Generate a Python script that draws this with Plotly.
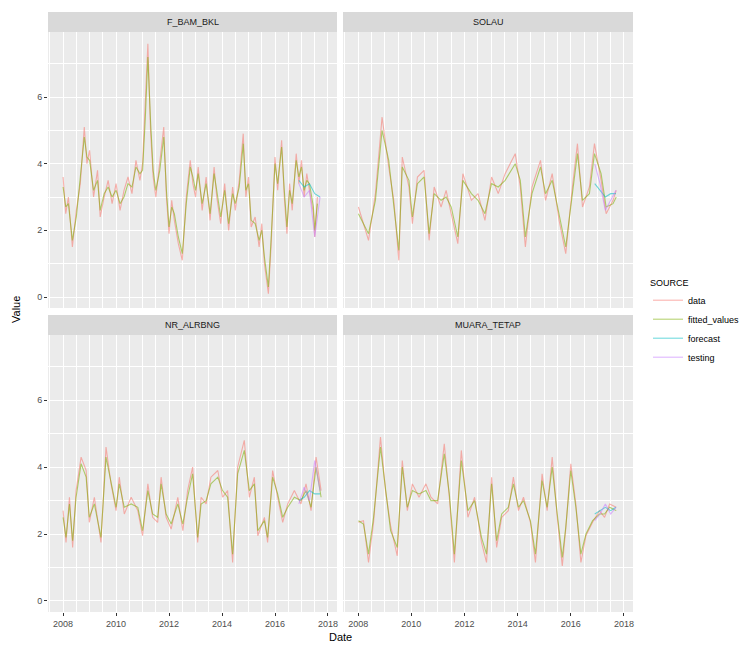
import plotly.graph_objects as go
from plotly.subplots import make_subplots

# ---------------- data ----------------
facet_names = ["F_BAM_BKL", "SOLAU", "NR_ALRBNG", "MUARA_TETAP"]
source_names = ["data", "fitted_values", "forecast", "testing"]
source_colors = ["#F8766D", "#7CAE00", "#00BFC4", "#C77CFF"]

# facet 1
x1 = [2008.00, 2008.10, 2008.20, 2008.35, 2008.50, 2008.65, 2008.80, 2008.90,
      2009.00, 2009.15, 2009.30, 2009.40, 2009.55, 2009.70, 2009.85,
      2010.00, 2010.15, 2010.30, 2010.45, 2010.60, 2010.75, 2010.90,
      2011.00, 2011.10, 2011.20, 2011.30, 2011.40, 2011.50, 2011.65, 2011.80, 2011.90,
      2012.00, 2012.10, 2012.20, 2012.35, 2012.50, 2012.65, 2012.80, 2012.90,
      2013.00, 2013.10, 2013.25, 2013.40, 2013.55, 2013.70, 2013.80, 2013.95,
      2014.10, 2014.25, 2014.40, 2014.50, 2014.65, 2014.80, 2014.90,
      2015.00, 2015.10, 2015.25, 2015.40, 2015.50, 2015.60, 2015.75, 2015.85,
      2016.00, 2016.10, 2016.25, 2016.35, 2016.45, 2016.55, 2016.65, 2016.80, 2016.90,
      2017.00, 2017.10, 2017.20, 2017.30, 2017.45, 2017.50, 2017.60]
data1 = [3.6, 2.5, 3.0, 1.5, 2.6, 3.4, 5.1, 4.0,
         4.4, 3.0, 3.8, 2.4, 3.0, 3.5, 2.8,
         3.4, 2.6, 3.2, 3.6, 3.1, 4.1, 3.5,
         4.0, 5.6, 7.6, 5.0, 3.6, 3.0, 4.0, 5.1, 3.0,
         1.9, 2.9, 2.3, 1.6, 1.1, 3.0, 4.1, 3.4,
         3.0, 3.9, 2.6, 3.6, 2.3, 3.9, 3.0, 2.2,
         3.4, 2.0, 3.3, 2.6, 3.5, 4.9, 3.0,
         3.6, 2.1, 2.4, 1.5, 2.2, 1.0, 0.1, 1.5,
         4.2, 3.2, 4.7, 3.0, 1.9, 3.4, 2.6, 4.3, 3.4,
         4.1, 3.0, 3.7, 3.2, 2.5, 1.8, 3.0]
fitted1 = [3.3, 2.7, 2.8, 1.7, 2.4, 3.6, 4.8, 4.2,
           4.1, 3.2, 3.5, 2.6, 3.1, 3.3, 3.0,
           3.2, 2.8, 3.0, 3.4, 3.3, 3.9, 3.7,
           3.8, 5.3, 7.2, 5.3, 3.8, 3.2, 3.8, 4.8, 3.2,
           2.1, 2.7, 2.5, 1.8, 1.3, 2.8, 3.9, 3.6,
           3.2, 3.7, 2.8, 3.4, 2.5, 3.7, 3.2, 2.4,
           3.2, 2.2, 3.1, 2.8, 3.3, 4.6, 3.2,
           3.4, 2.3, 2.2, 1.7, 2.0, 1.2, 0.3, 1.7,
           4.0, 3.4, 4.5, 3.2, 2.1, 3.2, 2.8, 4.1, 3.6,
           3.9, 3.2, 3.5, 3.4, 2.7, 2.0, 2.8]

# facet 2
x2 = [2008.01, 2008.39, 2008.65, 2008.90,
      2009.15, 2009.34, 2009.53, 2009.66, 2009.91,
      2010.04, 2010.23, 2010.48, 2010.67, 2010.86,
      2011.12, 2011.31, 2011.50, 2011.75, 2011.94,
      2012.26, 2012.51, 2012.77,
      2013.02, 2013.27, 2013.53, 2013.91,
      2014.10, 2014.29, 2014.54, 2014.86,
      2015.05, 2015.30, 2015.56, 2015.81,
      2016.06, 2016.25, 2016.44, 2016.70, 2016.89,
      2017.14, 2017.33, 2017.59, 2017.71]
data2 = [2.7, 1.7, 3.1, 5.4,
         3.9, 2.9, 1.1, 4.2, 3.3,
         2.2, 3.6, 3.8, 1.7, 3.3,
         2.7, 3.2, 2.5, 1.6, 3.7,
         2.9, 3.1, 2.3,
         3.6, 3.1, 3.7, 4.3,
         3.3, 1.5, 3.3, 4.1,
         2.9, 3.7, 2.3, 1.3,
         3.3, 4.6, 2.7, 3.3, 4.6,
         3.5, 2.5, 2.9, 3.2]
fitted2 = [2.5, 1.9, 2.9, 5.0,
           4.1, 2.7, 1.4, 3.9, 3.5,
           2.4, 3.4, 3.6, 1.9, 3.1,
           2.9, 3.0, 2.7, 1.8, 3.5,
           3.1, 2.9, 2.5,
           3.4, 3.3, 3.5, 4.0,
           3.5, 1.8, 3.1, 3.9,
           3.1, 3.5, 2.5, 1.5,
           3.1, 4.3, 2.9, 3.1, 4.3,
           3.7, 2.7, 2.8, 3.0]

# facet 3
x3 = [2008.00, 2008.11, 2008.24, 2008.36, 2008.49, 2008.68, 2008.87, 2008.99,
      2009.18, 2009.43, 2009.62, 2009.81,
      2010.00, 2010.12, 2010.31, 2010.57, 2010.82,
      2011.00, 2011.20, 2011.38, 2011.57, 2011.70, 2011.89,
      2012.08, 2012.33, 2012.52, 2012.70, 2012.89,
      2013.08, 2013.21, 2013.40, 2013.58, 2013.84,
      2014.02, 2014.21, 2014.40, 2014.59, 2014.84,
      2015.03, 2015.22, 2015.35, 2015.60, 2015.72, 2015.91,
      2016.10, 2016.29, 2016.48, 2016.73, 2016.98,
      2017.17, 2017.36, 2017.55, 2017.74]
data3 = [2.7, 1.75, 3.1, 1.6, 3.3, 4.3, 3.9, 2.35,
         3.1, 1.75, 4.6, 3.5,
         2.7, 3.7, 2.6, 3.1, 2.7,
         1.95, 3.5, 2.5, 2.35, 3.7, 2.5,
         2.15, 3.1, 2.1, 3.3, 4.0,
         1.75, 3.1, 2.9, 3.7, 3.9,
         3.1, 3.3, 1.15, 4.0, 4.8,
         3.1, 3.7, 1.95, 2.5, 1.75, 3.9,
         3.1, 2.35, 2.9, 3.3, 2.9,
         3.5, 2.7, 4.3, 3.3]
fitted3 = [2.5, 1.9, 2.9, 1.8, 3.1, 4.1, 3.7, 2.5,
           2.9, 1.9, 4.3, 3.6,
           2.8, 3.5, 2.8, 2.9, 2.8,
           2.1, 3.3, 2.6, 2.5, 3.5, 2.6,
           2.3, 2.9, 2.3, 3.1, 3.8,
           1.9, 2.9, 3.0, 3.5, 3.7,
           3.3, 3.1, 1.4, 3.8, 4.5,
           3.3, 3.5, 2.1, 2.4, 1.9, 3.7,
           3.2, 2.5, 2.8, 3.1, 3.0,
           3.3, 2.8, 4.0, 3.1]

# facet 4
x4 = [2008.01, 2008.20, 2008.39, 2008.58, 2008.84,
      2009.03, 2009.22, 2009.47, 2009.66, 2009.85,
      2010.04, 2010.29, 2010.55, 2010.74, 2010.99,
      2011.24, 2011.43, 2011.62, 2011.88,
      2012.13, 2012.38, 2012.64, 2012.83,
      2013.02, 2013.21, 2013.40, 2013.65, 2013.84,
      2014.03, 2014.22, 2014.48, 2014.67, 2014.92,
      2015.11, 2015.30, 2015.49, 2015.68, 2015.81,
      2016.00, 2016.19, 2016.38, 2016.57, 2016.82,
      2017.08, 2017.27, 2017.46, 2017.71]
data4 = [2.35, 2.4, 1.15, 2.35, 4.9,
         3.3, 2.25, 1.35, 4.2, 2.7,
         3.5, 3.1, 3.5, 3.1, 2.9,
         4.7, 3.1, 1.15, 4.5,
         2.5, 3.1, 1.75, 1.15,
         3.7, 1.6, 2.5, 2.7, 3.7,
         2.7, 3.1, 2.35, 1.15, 3.8,
         2.7, 4.3, 2.5, 1.05, 2.15,
         4.1, 2.9, 1.15, 1.95, 2.35,
         2.7, 2.5, 2.9, 2.8]
fitted4 = [2.4, 2.3, 1.4, 2.5, 4.6,
           3.4, 2.1, 1.6, 4.0, 2.8,
           3.3, 3.2, 3.3, 3.0, 3.0,
           4.4, 3.2, 1.4, 4.2,
           2.7, 3.0, 1.9, 1.4,
           3.5, 1.8, 2.6, 2.8, 3.5,
           2.8, 3.0, 2.4, 1.4, 3.6,
           2.8, 4.0, 2.6, 1.3, 2.2,
           3.9, 2.8, 1.4, 2.0, 2.4,
           2.6, 2.6, 2.8, 2.7]

# forecast / testing (end of series)
xf = [2016.90, 2017.10, 2017.30, 2017.50, 2017.70]
forecast = [[3.5, 3.3, 3.4, 3.1, 3.0],
            [3.4, 3.2, 3.0, 3.1, 3.1],
            [3.0, 3.1, 3.3, 3.2, 3.2],
            [2.6, 2.7, 2.8, 2.7, 2.8]]
testing = [[3.4, 3.0, 3.2, 1.8, 3.0],
           [4.0, 3.4, 2.6, 2.9, 3.2],
           [2.9, 3.4, 3.0, 4.2, 3.3],
           [2.4, 2.6, 2.9, 2.6, 2.8]]

xs = [x1, x2, x3, x4]
datas = [data1, data2, data3, data4]
fitteds = [fitted1, fitted2, fitted3, fitted4]

year_ticks = [2008, 2010, 2012, 2014, 2016, 2018]
value_ticks = [0, 2, 4, 6]

# ---------------- figure ----------------
# the page body has an 8px default margin; compensate so the figure lands
# where the 754x646 reference shows it
OFF = 8
W, H = 754 - OFF, 646 - OFF
fig = make_subplots(rows=2, cols=2)

positions = [(1, 1), (1, 2), (2, 1), (2, 2)]
for i, (r, c) in enumerate(positions):
    series = [(xs[i], datas[i]), (xs[i], fitteds[i]), (xf, forecast[i]), (xf, testing[i])]
    for j, (xx, yy) in enumerate(series):
        n = min(len(xx), len(yy))
        fig.add_trace(go.Scatter(
            x=xx[:n], y=yy[:n], mode="lines",
            line=dict(color=source_colors[j], width=1.1),
            opacity=0.55,
            name=source_names[j], legendgroup=source_names[j],
            showlegend=(i == 0),
        ), row=r, col=c)


def px_x(p):
    return (p - OFF) / W


def px_y(p):
    return 1 - (p - OFF) / H


xdom = [[px_x(48), px_x(337)], [px_x(343), px_x(633)]]
ydom = [[px_y(308), px_y(32)], [px_y(612), px_y(335)]]
strips = [(12, 32), (315, 335)]

grid = "#FFFFFF"
for i, (r, c) in enumerate(positions):
    bottom = (r == 2)
    left = (c == 1)
    fig.update_xaxes(
        row=r, col=c, domain=xdom[c - 1], range=[2007.43, 2018.34], automargin=False,
        tickmode="array", tickvals=year_ticks, ticktext=[str(v) for v in year_ticks],
        showticklabels=bottom, ticks="outside" if bottom else "", ticklen=3,
        tickcolor="#333333", tickfont=dict(size=9, color="#4D4D4D"),
        showgrid=True, gridcolor=grid, gridwidth=1, zeroline=False, showline=False,
        minor=dict(dtick=0.5, tick0=2008, showgrid=True, gridcolor=grid, gridwidth=0.5),
    )
    fig.update_yaxes(
        row=r, col=c, domain=ydom[r - 1], range=[-0.33, 7.95], automargin=False,
        tickmode="array", tickvals=value_ticks, ticktext=[str(v) for v in value_ticks],
        showticklabels=left, ticks="outside" if left else "", ticklen=3,
        tickcolor="#333333", tickfont=dict(size=9, color="#4D4D4D"),
        showgrid=True, gridcolor=grid, gridwidth=1, zeroline=False, showline=False,
        minor=dict(dtick=1, tick0=0, showgrid=True, gridcolor=grid, gridwidth=0.5),
    )

shapes = []
annotations = []
for i, (r, c) in enumerate(positions):
    x0, x1p = xdom[c - 1]
    s0, s1 = strips[r - 1]
    shapes.append(dict(type="rect", xref="paper", yref="paper",
                       x0=x0, x1=x1p, y0=px_y(s1), y1=px_y(s0),
                       fillcolor="#D9D9D9", line=dict(width=0), layer="below"))
    annotations.append(dict(xref="paper", yref="paper", x=(x0 + x1p) / 2,
                            y=px_y((s0 + s1) / 2), text=facet_names[i], showarrow=False,
                            font=dict(size=9, color="#1A1A1A"),
                            xanchor="center", yanchor="middle"))

annotations.append(dict(xref="paper", yref="paper", x=px_x(340), y=px_y(637),
                        text="Date", showarrow=False, font=dict(size=11, color="#000000"),
                        xanchor="center", yanchor="middle"))
annotations.append(dict(xref="paper", yref="paper", x=px_x(16), y=px_y(310),
                        text="Value", showarrow=False, textangle=-90,
                        font=dict(size=11, color="#000000"),
                        xanchor="center", yanchor="middle"))

fig.update_layout(
    width=W, height=H,
    margin=dict(l=0, r=0, t=0, b=0),
    paper_bgcolor="#FFFFFF", plot_bgcolor="#EBEBEB",
    font=dict(family="Liberation Sans, Arial, sans-serif", size=9, color="#000000"),
    shapes=shapes, annotations=annotations,
    showlegend=True,
    legend=dict(
        x=px_x(648), y=px_y(274), xanchor="left", yanchor="top",
        title=dict(text="SOURCE", font=dict(size=9, color="#000000")),
        font=dict(size=9, color="#000000"), itemwidth=30,
        bgcolor="rgba(255,255,255,0)", tracegroupgap=0,
    ),
)

fig.write_html("out.html")
